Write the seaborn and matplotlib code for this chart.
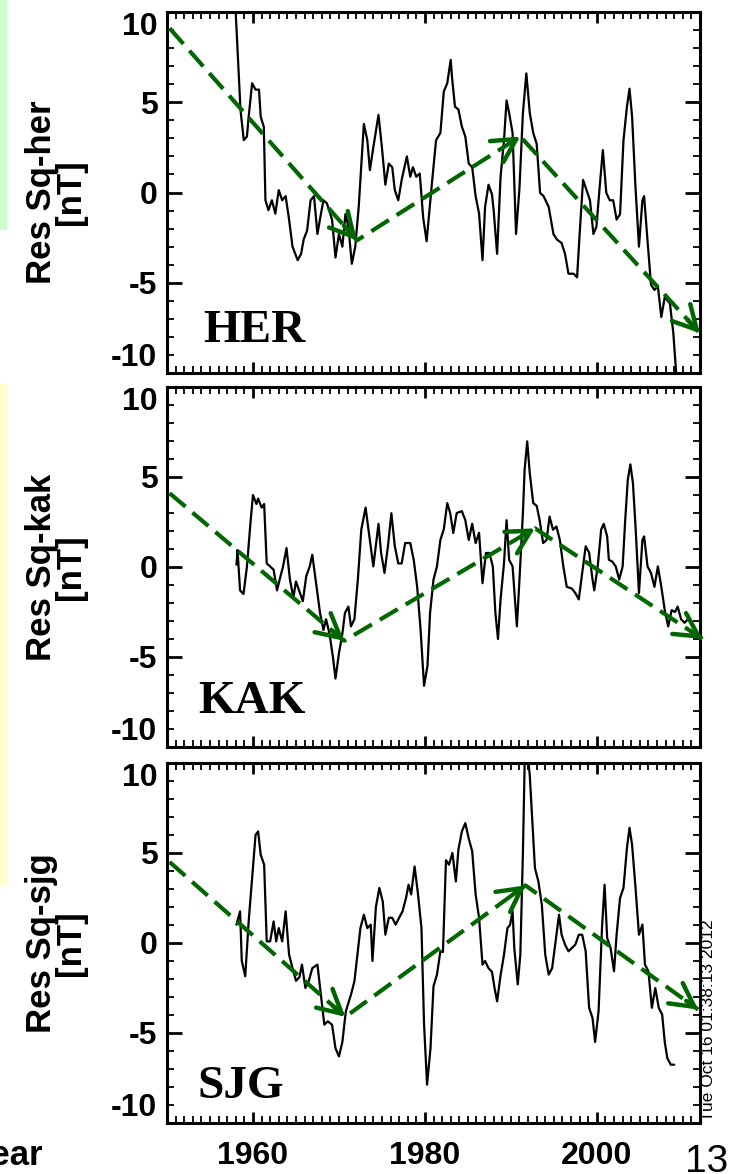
import matplotlib
matplotlib.use("Agg")
import matplotlib.pyplot as plt
from matplotlib.patches import Rectangle
from matplotlib.ticker import MultipleLocator
import seaborn as sns
import pandas as pd

# ---------------- data ----------------
stations = ["HER", "KAK", "SJG"]
ylabels = ["Res Sq-her\n[nT]", "Res Sq-kak\n[nT]", "Res Sq-sjg\n[nT]"]
y_ticks = [-10, -5, 0, 5, 10]
y_ticklabels = ["-10", "-5", "0", "5", "10"]
x_ticks = [1960, 1980, 2000]
x_ticklabels = ["1960", "1980", "2000"]

her_year = [1957.9, 1958.0, 1958.55, 1958.93, 1959.3, 1959.5, 1959.9, 1960.3, 1960.7, 1960.9,
            1961.26, 1961.45, 1961.8, 1962.2, 1962.6, 1963.0, 1963.4, 1963.8, 1964.2, 1964.6,
            1965.2, 1965.6, 1965.9, 1966.3, 1966.7, 1967.1, 1967.5, 1967.9, 1968.2, 1968.6,
            1969.2, 1969.6, 1970.0, 1970.4, 1970.75, 1971.1, 1971.5, 1971.9, 1972.3, 1972.9,
            1973.3, 1973.6, 1974.0, 1974.6, 1975.0, 1975.4, 1975.8, 1976.2, 1976.5, 1976.9,
            1977.3, 1977.9, 1978.3, 1978.6, 1979.0, 1979.4, 1979.8, 1980.2, 1980.8, 1981.3,
            1981.8, 1982.2, 1982.6, 1983.0, 1983.15, 1983.5, 1983.9, 1984.3, 1984.7, 1985.1,
            1985.5, 1985.9, 1986.3, 1986.7, 1987.0, 1987.4, 1987.8, 1988.0, 1988.4, 1988.8,
            1989.2, 1989.5, 1989.8, 1990.2, 1990.6, 1991.0, 1991.4, 1991.8, 1992.2, 1992.6,
            1993.0, 1993.4, 1993.8, 1994.4, 1994.95, 1995.35, 1995.9, 1996.3, 1996.7, 1997.3,
            1997.7, 1998.0, 1998.4, 1998.8, 1999.2, 1999.6, 1999.95, 2000.3, 2000.7, 2001.1,
            2001.5, 2001.9, 2002.3, 2002.7, 2003.1, 2003.5, 2003.8, 2004.1, 2004.5, 2004.9,
            2005.3, 2005.5, 2005.9, 2006.3, 2006.7, 2007.1, 2007.5, 2007.9, 2008.5, 2008.9,
            2009.3]
her_val = [11.5, 9.9, 4.57, 2.9, 3.1, 4.2, 6.05, 5.7, 5.7, 4.2,
           3.64, -0.43, -0.98, -0.43, -1.17, 0.13, -0.43, -0.2, -1.5, -3.0,
           -3.75, -3.4, -2.6, -2.1, -0.43, -0.2, -2.3, -1.2, -0.43, -0.6,
           -1.5, -3.6, -2.3, -3.0, -1.2, -1.9, -3.95, -3.0, -0.8, 3.8,
           2.9, 1.24, 2.5, 4.3, 2.5, 0.43, 1.6, 1.4, 0.13, -0.43,
           0.7, 2.0, 0.87, 1.4, 0.87, 1.05, -1.4, -2.7, 0.43, 2.9,
           3.3, 5.6, 6.05, 7.35, 6.4, 4.75, 4.6, 3.65, 3.1, 1.6,
           1.4, -0.2, -1.17, -3.75, -0.8, 0.43, -0.1, -1.0, -3.4, 0.87,
           2.9, 5.1, 4.4, 3.3, -2.3, 0.25, 4.4, 6.6, 4.4, 3.3,
           2.7, -0.02, -0.2, -0.8, -2.3, -2.6, -2.8, -3.4, -4.5, -4.5,
           -4.7, -2.3, 0.7, 0.13, -0.43, -2.3, -1.9, 0.13, 2.35, -0.02,
           -0.43, -0.43, -1.5, -1.2, 2.9, 4.75, 5.75, 4.2, 0.25, -3.0,
           -0.43, -0.2, -2.7, -5.1, -5.4, -5.2, -6.9, -5.8, -6.15, -7.8,
           -10.5]

kak_year = [1958.08, 1958.2, 1958.5, 1958.9, 1959.3, 1959.7, 1960.0, 1960.4, 1960.6, 1961.0,
            1961.3, 1961.6, 1962.0, 1962.4, 1962.8, 1963.1, 1963.5, 1963.9, 1964.3, 1964.7,
            1965.0, 1965.4, 1965.8, 1966.2, 1966.6, 1966.9, 1967.4, 1967.8, 1968.2, 1968.5,
            1968.9, 1969.3, 1969.6, 1970.0, 1970.4, 1970.7, 1971.1, 1971.4, 1971.8, 1972.2,
            1972.6, 1973.1, 1973.6, 1974.0, 1974.6, 1974.9, 1975.3, 1975.7, 1976.1, 1976.5,
            1976.9, 1977.3, 1977.7, 1978.3, 1978.7, 1979.1, 1979.5, 1979.9, 1980.3, 1980.6,
            1981.0, 1981.4, 1981.8, 1982.2, 1982.6, 1982.94, 1983.3, 1983.7, 1984.3, 1984.7,
            1985.1, 1985.5, 1985.9, 1986.3, 1986.7, 1987.1, 1987.5, 1987.9, 1988.2, 1988.5,
            1988.8, 1989.2, 1989.5, 1989.8, 1990.2, 1990.7, 1991.0, 1991.4, 1991.6, 1991.9,
            1992.2, 1992.6, 1993.0, 1993.35, 1993.75, 1994.15, 1994.5, 1994.9, 1995.3, 1995.7,
            1996.1, 1996.5, 1997.1, 1997.5, 1997.9, 1998.3, 1998.7, 1999.1, 1999.5, 1999.7,
            2000.1, 2000.5, 2000.8, 2001.2, 2001.4, 2001.8, 2002.2, 2002.6, 2003.0, 2003.3,
            2003.6, 2003.9, 2004.2, 2004.5, 2004.9, 2005.3, 2005.5, 2005.9, 2006.3, 2006.7,
            2007.1, 2007.5, 2007.9, 2008.3, 2008.7, 2009.1, 2009.4, 2009.8, 2010.2, 2010.6,
            2011.0, 2011.2]
kak_val = [0.13, 0.95, -1.3, -1.5, 0.03, 2.4, 4.0, 3.5, 3.8, 3.3,
           3.5, 0.2, 0.03, -0.15, -1.3, -0.7, 0.03, 1.05, -0.7, -1.7,
           -0.8, -1.35, -1.9, -0.5, 0.03, 0.68, -1.1, -2.55, -3.5, -2.9,
           -3.7, -5.0, -6.2, -4.8, -3.7, -2.55, -2.2, -3.3, -2.9, -0.7,
           2.07, 3.3, 1.5, 0.03, 2.4, 0.8, -0.33, 1.15, 2.99, 1.15,
           0.2, 0.2, 1.33, 1.33, 0.4, -1.1, -3.5, -6.6, -5.5, -2.55,
           -0.7, 0.03, 1.5, 2.1, 3.55, 3.0, 1.89, 3.0, 3.1, 2.6,
           1.5, 2.4, 1.33, 1.9, -0.9, 0.78, 0.78, 0.03, -2.55, -4.0,
           -1.8, 0.2, 2.6, 0.4, 0.03, -3.3, -0.7, 3.0, 5.4, 6.98,
           5.2, 3.55, 3.4, 2.6, 1.33, 1.5, 2.8, 2.07, 2.25, 1.5,
           0.03, -1.1, -1.2, -1.45, -1.8, -0.33, 1.15, 0.8, -0.7, -1.3,
           0.03, 2.07, 2.4, 1.7, 0.4, 0.3, 0.03, -0.7, 0.03, 2.6,
           4.85, 5.7, 4.66, 2.25, -1.45, 1.5, 1.7, 0.03, -0.33, -1.1,
           0.03, -1.1, -2.4, -3.3, -2.4, -2.5, -2.2, -2.9, -3.1, -2.9,
           -3.1, -3.3]

sjg_year = [1958.08, 1958.5, 1958.7, 1959.1, 1959.5, 1959.9, 1960.3, 1960.6, 1960.9, 1961.3,
            1961.6, 1962.0, 1962.4, 1962.7, 1963.0, 1963.4, 1963.8, 1964.2, 1964.6, 1965.0,
            1965.4, 1965.7, 1966.1, 1966.5, 1966.9, 1967.5, 1967.9, 1968.3, 1968.7, 1969.2,
            1969.6, 1970.0, 1970.4, 1970.8, 1971.4, 1971.8, 1972.2, 1972.5, 1972.9, 1973.3,
            1973.7, 1973.9, 1974.3, 1974.7, 1975.1, 1975.4, 1975.8, 1976.2, 1976.6, 1977.0,
            1977.4, 1977.8, 1978.1, 1978.4, 1978.8, 1979.2, 1979.6, 1979.9, 1980.25, 1980.65,
            1981.0, 1981.4, 1981.8, 1982.1, 1982.45, 1982.8, 1983.2, 1983.6, 1983.9, 1984.3,
            1984.7, 1985.1, 1985.5, 1985.9, 1986.3, 1986.7, 1987.0, 1987.4, 1987.8, 1988.1,
            1988.4, 1988.8, 1989.2, 1989.6, 1989.9, 1990.2, 1990.4, 1990.8, 1991.1, 1991.4,
            1991.6, 1991.9, 1992.2, 1992.5, 1992.8, 1993.2, 1993.6, 1994.0, 1994.4, 1994.8,
            1995.2, 1995.6, 1995.9, 1996.3, 1996.7, 1997.1, 1997.5, 1997.9, 1998.3, 1998.7,
            1999.1, 1999.5, 1999.8, 2000.2, 2000.6, 2000.9, 2001.2, 2001.6, 2002.0, 2002.3,
            2002.7, 2003.1, 2003.5, 2003.8, 2004.1, 2004.5, 2004.9, 2005.3, 2005.6, 2006.0,
            2006.4, 2006.8, 2007.2, 2007.6, 2007.9, 2008.2, 2008.6, 2009.0]
sjg_val = [1.02, 1.76, -1.0, -1.85, 1.2, 3.6, 6.0, 6.2, 4.9, 4.35,
           0.09, 0.09, 1.2, 0.09, 0.83, 0.09, 1.76, -0.65, -1.4, -2.1,
           -1.9, -1.2, -2.5, -2.1, -1.4, -1.2, -2.87, -4.54, -4.35, -4.54,
           -5.85, -6.3, -5.5, -3.8, -2.87, -2.13, -0.46, 0.83, 1.57, 0.83,
           1.02, -1.0, 2.0, 3.06, 2.3, 0.46, 1.4, 1.4, 1.02, 1.4,
           1.76, 2.5, 3.24, 2.7, 4.25, 2.7, 0.83, -4.5, -7.87, -5.85,
           -2.4, -1.76, -0.46, -0.5, 4.6, 4.35, 5.0, 3.42, 5.2, 6.2,
           6.66, 5.8, 5.1, 2.7, 1.4, -1.2, -1.0, -1.4, -1.6, -2.5,
           -3.24, -1.8, -0.65, 0.83, 1.0, 1.76, -0.3, -2.3, -0.65, 5.0,
           9.9, 10.8, 9.3, 6.75, 4.16, 3.42, 2.13, -0.65, -1.76, -1.4,
           0.09, 1.57, 0.46, -0.09, -0.46, -0.28, -0.09, 0.46, 0.46, -0.46,
           -3.6, -4.17, -5.5, -3.8, 0.83, 3.24, 0.28, -0.28, -1.57, 0.46,
           2.5, 3.06, 5.28, 6.4, 5.46, 3.06, 0.46, 1.02, -1.2, -1.57,
           -3.6, -2.5, -3.6, -3.98, -5.5, -6.4, -6.76, -6.76]

her_trend_year = [1950.3, 1972.1, 1991.1, 2012.0]
her_trend_val = [9.1, -2.65, 3.1, -7.8]
kak_trend_year = [1950.3, 1970.6, 1992.8, 2012.3]
kak_trend_val = [4.1, -4.1, 2.15, -4.0]
sjg_trend_year = [1950.3, 1970.75, 1991.7, 2011.8]
sjg_trend_val = [4.5, -4.1, 3.2, -3.7]

series_year = [her_year, kak_year, sjg_year]
series_val = [her_val, kak_val, sjg_val]
trend_year = [her_trend_year, kak_trend_year, sjg_trend_year]
trend_val = [her_trend_val, kak_trend_val, sjg_trend_val]

# ---------------- style ----------------
sns.set_theme(style="ticks")
plt.rcParams['font.family'] = ['Liberation Sans', 'DejaVu Sans']
plt.rcParams['text.color'] = 'black'
plt.rcParams['axes.labelcolor'] = 'black'
plt.rcParams['xtick.color'] = 'black'
plt.rcParams['ytick.color'] = 'black'
plt.rcParams['axes.edgecolor'] = 'black'

W, H = 731, 1174
fig = plt.figure(figsize=(W / 100, H / 100), dpi=100)
fig.patch.set_facecolor("white")

# decorative coloured strips at the left edge (slide background)
fig.patches.append(Rectangle((0, 1 - 230 / H), 7 / W, 230 / H, transform=fig.transFigure,
                             facecolor="#ccffcc", edgecolor="none", zorder=0))
fig.patches.append(Rectangle((0, 1 - 885 / H), 7 / W, (885 - 383) / H, transform=fig.transFigure,
                             facecolor="#ffffcc", edgecolor="none", zorder=0))

ax_left, ax_right = 167, 700
panels_px = [(12, 373), (387, 747), (763, 1123)]
green = "#006600"
label_pos = [(0.068, 0.086), (0.058, 0.094), (0.058, 0.07)]

for i, (top, bot) in enumerate(panels_px):
    ax = fig.add_axes([ax_left / W, 1 - bot / H, (ax_right - ax_left) / W, (bot - top) / H])
    df = pd.DataFrame({"year": series_year[i], "val": series_val[i]})
    sns.lineplot(data=df, x="year", y="val", ax=ax, color="black", lw=1.6,
                 sort=False, estimator=None)

    # dashed trend segments with open arrow heads
    ty, tv = trend_year[i], trend_val[i]
    ax.plot(ty, tv, color=green, lw=3, dashes=(5, 2.2), clip_on=False, zorder=5,
            solid_capstyle="butt", dash_capstyle="butt")
    for k in range(1, len(ty)):
        x0, y0 = ty[k - 1], tv[k - 1]
        x1, y1 = ty[k], tv[k]
        f = 0.93
        ax.annotate("", xy=(x1, y1), xytext=(x0 + f * (x1 - x0), y0 + f * (y1 - y0)),
                    arrowprops=dict(arrowstyle="->,head_length=0.6,head_width=0.32",
                                    color=green, lw=3.2, mutation_scale=28,
                                    shrinkA=0, shrinkB=0),
                    annotation_clip=False, zorder=6)

    ax.set_xlim(1950, 2012)
    ax.set_ylim(-10, 10)
    ax.set_yticks(y_ticks)
    ax.set_yticklabels(y_ticklabels)
    ax.yaxis.set_minor_locator(MultipleLocator(1))
    ax.set_xticks(x_ticks)
    ax.xaxis.set_minor_locator(MultipleLocator(1))
    if i == 2:
        ax.set_xticklabels(x_ticklabels)
    else:
        ax.set_xticklabels([])
    ax.tick_params(which="both", direction="in", top=True, right=True,
                   bottom=True, left=True)
    ax.tick_params(which="major", length=11, width=2, labelsize=23, pad=7, colors="black")
    ax.tick_params(axis="x", which="major", pad=13, length=8)
    ax.tick_params(which="minor", length=5, width=1.3)
    for lab in ax.get_xticklabels() + ax.get_yticklabels():
        lab.set_fontweight("bold")
    ylabs = ax.get_yticklabels()
    ylabs[0].set_va("bottom")   # -10 sits inside the frame
    ylabs[-1].set_va("top")     # 10 sits inside the frame
    for sp in ax.spines.values():
        sp.set_linewidth(2.2)
        sp.set_color("black")
        sp.set_visible(True)
    ax.grid(False)
    ax.set_xlabel("")
    ax.set_ylabel(ylabels[i], fontsize=25, fontweight="bold", linespacing=0.86,
                  multialignment="center")
    ax.yaxis.set_label_coords(-0.15, 0.5)
    lx, ly = label_pos[i]
    ax.text(lx, ly, stations[i], transform=ax.transAxes, fontsize=34, fontweight="bold",
            family="Liberation Serif", color="black", ha="left", va="baseline", zorder=7)

# bottom texts
fig.text(43 / W, (H - 1165) / H, "Year", fontsize=25, fontweight="bold",
         ha="right", va="baseline")
fig.text(685 / W, (H - 1172) / H, "13", fontsize=28, ha="left", va="baseline")
fig.text(701 / W, (H - 1121) / H, "Tue Oct 16 01:38:13 2012", fontsize=12.5,
         rotation=90, ha="left", va="bottom")

fig.savefig("out.png", dpi=100, facecolor="white")
